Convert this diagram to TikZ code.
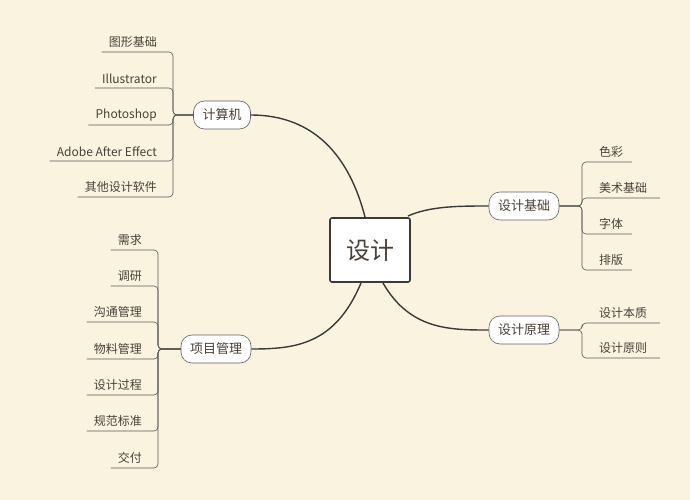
\documentclass[tikz,border=0pt]{standalone}
\usepackage{fontspec}
\setmainfont{Noto Sans CJK SC}
\usetikzlibrary{calc}
\definecolor{paper}{HTML}{FAF3E0}
\definecolor{ink}{HTML}{3A3A3A}
\definecolor{word}{HTML}{4A4038}
\tikzset{
  topic/.style = {draw=ink, fill=white, rounded corners=2pt, line width=1.6pt,
    minimum width=80pt, minimum height=64pt, font=\fontsize{24}{26}\selectfont, text=word},
  branch/.style = {draw=ink!80, fill=white, rounded corners=11pt, line width=0.6pt,
    minimum height=28pt, inner xsep=9pt, font=\fontsize{13}{15}\selectfont, text=word},
  leaf/.style = {inner xsep=1pt, inner ysep=4pt, font=\fontsize{12}{14}\selectfont, text=word},
  twig/.style = {draw=ink!85, line width=0.6pt, rounded corners=4pt},
  limb/.style = {draw=ink, line width=1.4pt}
}
\begin{document}
\begin{tikzpicture}[x=1pt, y=-1pt]
\fill[paper] (0,0) rectangle (690,500);
\useasboundingbox (0,0) rectangle (690,500);

\node [topic] (main) at (370,250) {设计};
\node [branch] (comp) at (222,115) {计算机};
\node [branch] (basic) at (524,206) {设计基础};
\node [branch] (theory) at (524,330) {设计原理};
\node [branch] (proj) at (216,349) {项目管理};

% main curves
\draw [limb] (365,217) .. controls (345,140) and (300,115) .. (comp.east);
\draw [limb] (408,216) .. controls (430,206) and (460,206) .. (basic.west);
\draw [limb] (383,283) .. controls (410,330) and (450,330) .. (theory.west);
\draw [limb] (361,283) .. controls (335,345) and (295,349) .. (proj.east);

% left leaves of 计算机
\foreach \name/\y/\txt in {c1/52/图形基础, c2/88/Illustrator, c3/125/Photoshop,
    c4/161/Adobe After Effect, c5/197/其他设计软件} {
  \node [leaf, anchor=south east] (\name) at (158,\y) {\txt};
  \draw [twig] ($(\name.south west)+(-6,0)$) -- (173,\y) -- (173,115) -- (comp.west);
}

% left leaves of 项目管理
\foreach \name/\y/\txt in {p1/250/需求, p2/286/调研, p3/322/沟通管理, p4/359/物料管理,
    p5/395/设计过程, p6/431/规范标准, p7/468/交付} {
  \node [leaf, anchor=south east] (\name) at (143,\y) {\txt};
  \draw [twig] ($(\name.south west)+(-6,0)$) -- (158,\y) -- (158,349) -- (proj.west);
}

% right leaves of 设计基础
\foreach \name/\y/\txt/\w in {b1/162/色彩/50, b2/198/美术基础/78, b3/234/字体/50, b4/270/排版/50} {
  \node [leaf, anchor=south west] (\name) at (598,\y) {\txt};
  \draw [twig] (582+\w,\y) -- (582,\y) -- (582,206) -- (basic.east);
}

% right leaves of 设计原理
\foreach \name/\y/\txt in {t1/323/设计本质, t2/358/设计原则} {
  \node [leaf, anchor=south west] (\name) at (598,\y) {\txt};
  \draw [twig] (660,\y) -- (582,\y) -- (582,330) -- (theory.east);
}
\end{tikzpicture}
\end{document}
